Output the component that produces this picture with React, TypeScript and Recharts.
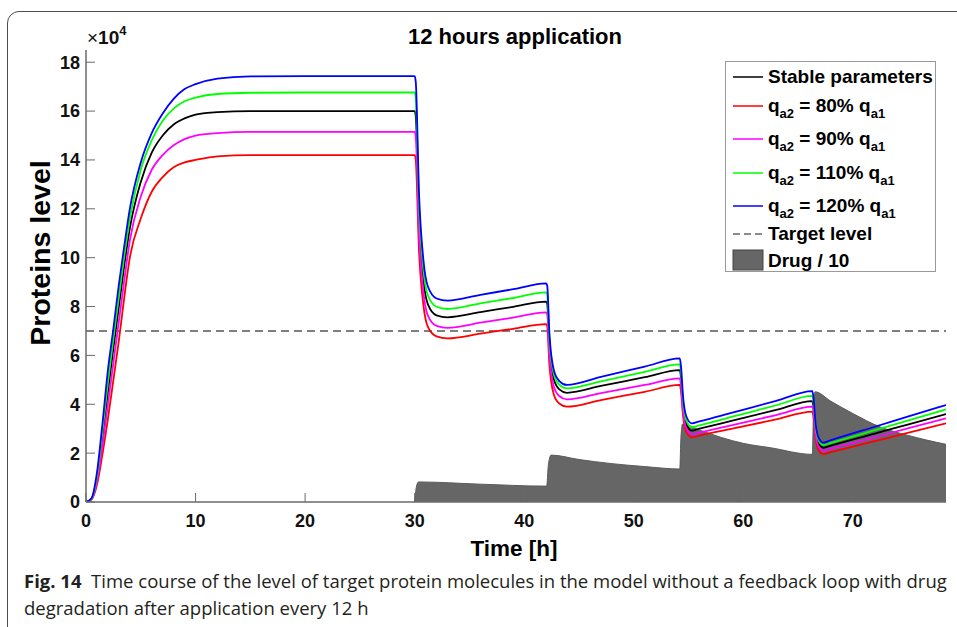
import React from 'react'
import { ComposedChart, Line, Area, XAxis, YAxis, ReferenceLine } from 'recharts'

// simulation time grid [h] for the protein curves
const hours = [
  0, 0.5, 1, 1.5, 2, 2.5, 3, 3.5, 4, 5, 6, 7, 8, 9, 10, 12, 15, 20, 30,
  30.1, 30.4, 30.8, 31.2, 32, 33, 36, 39, 42,
  42.1, 42.3, 42.7, 43.2, 43.9, 47, 51, 54.2,
  54.3, 54.5, 54.8, 55.3, 56, 59, 63, 66.3,
  66.4, 66.6, 66.9, 67.3, 68, 72, 75, 78.5,
]

// protein level (x 10^4)
const stable = [
  0, 0.13, 0.95, 2.6, 4.5, 6.3, 8.0, 9.7, 11.2, 13.1, 14.3, 15.0, 15.45, 15.7, 15.85, 15.96, 16.0, 16.0, 16.0,
  15.79, 11.57, 9.08, 8.1, 7.64, 7.56, 7.77, 7.99, 8.2,
  8.11, 6.36, 5.02, 4.61, 4.47, 4.75, 5.11, 5.4,
  5.14, 3.93, 3.18, 2.92, 3.0, 3.33, 3.77, 4.13,
  3.91, 2.92, 2.37, 2.22, 2.31, 2.8, 3.17, 3.6,
]
const qa80 = [
  0, 0.1, 0.7, 1.95, 3.4, 5.0, 6.6, 8.4, 10.0, 11.6, 12.7, 13.3, 13.7, 13.9, 14.0, 14.15, 14.2, 14.2, 14.2,
  14.01, 10.26, 8.05, 7.18, 6.78, 6.7, 6.89, 7.09, 7.28,
  7.2, 5.61, 4.4, 4.03, 3.9, 4.17, 4.51, 4.79,
  4.57, 3.52, 2.87, 2.65, 2.72, 3.0, 3.38, 3.7,
  3.5, 2.6, 2.1, 1.96, 2.04, 2.49, 2.83, 3.22,
]
const qa90 = [
  0, 0.12, 0.85, 2.3, 4.0, 5.7, 7.4, 9.1, 10.7, 12.5, 13.6, 14.2, 14.6, 14.85, 15.0, 15.1, 15.15, 15.15, 15.15,
  14.95, 10.94, 8.57, 7.64, 7.21, 7.13, 7.34, 7.55, 7.76,
  7.67, 6.0, 4.72, 4.34, 4.2, 4.46, 4.79, 5.06,
  4.82, 3.7, 3.01, 2.77, 2.84, 3.15, 3.56, 3.9,
  3.69, 2.76, 2.24, 2.1, 2.18, 2.65, 3.01, 3.42,
]
const qa110 = [
  0, 0.14, 1.05, 2.9, 4.9, 6.7, 8.4, 10.1, 11.6, 13.6, 14.8, 15.6, 16.1, 16.4, 16.55, 16.7, 16.75, 16.76, 16.76,
  16.54, 12.11, 9.49, 8.47, 7.99, 7.9, 8.13, 8.35, 8.58,
  8.49, 6.64, 5.23, 4.8, 4.65, 4.94, 5.33, 5.63,
  5.36, 4.1, 3.33, 3.06, 3.14, 3.49, 3.96, 4.34,
  4.11, 3.06, 2.49, 2.33, 2.42, 2.94, 3.33, 3.79,
]
const qa120 = [
  0, 0.15, 1.2, 3.2, 5.4, 7.1, 8.9, 10.5, 12.0, 13.9, 15.1, 15.9, 16.5, 16.9, 17.1, 17.33, 17.42, 17.43, 17.43,
  17.2, 12.6, 9.9, 8.83, 8.33, 8.24, 8.48, 8.71, 8.95,
  8.85, 6.9, 5.4, 4.95, 4.79, 5.12, 5.54, 5.88,
  5.6, 4.3, 3.5, 3.22, 3.3, 3.66, 4.14, 4.54,
  4.3, 3.2, 2.6, 2.43, 2.53, 3.08, 3.49, 3.97,
]

// drug amount / 10, dosed every 12 h from hour 30
const drugHours = [
  30, 30.15, 30.35, 36, 42.05, 42.2, 42.45, 45, 48, 51, 54.2, 54.3, 54.45, 56, 58, 60, 62.5, 66.3,
  66.4, 66.55, 68, 70, 72.5, 75, 78.5,
]
const drugLevel = [
  0, 0.6, 0.82, 0.73, 0.65, 1.5, 1.92, 1.74, 1.57, 1.45, 1.35, 2.6, 3.19, 2.95, 2.64, 2.4, 2.22, 1.95,
  3.6, 4.51, 4.12, 3.62, 3.07, 2.73, 2.36,
]

const targetLevel = 7
const xTicks = [0, 10, 20, 30, 40, 50, 60, 70]
const yTicks = [0, 2, 4, 6, 8, 10, 12, 14, 16, 18]

const proteinIdx = new Map(hours.map((t, i) => [t, i]))
const drugIdx = new Map(drugHours.map((t, i) => [t, i]))
const allHours = Array.from(new Set([...hours, ...drugHours])).sort((a, b) => a - b)
const rows = allHours.map((t) => {
  const i = proteinIdx.get(t)
  const j = drugIdx.get(t)
  const pick = (arr: number[]) => (i === undefined ? null : arr[i])
  return {
    t,
    stable: pick(stable),
    qa80: pick(qa80),
    qa90: pick(qa90),
    qa110: pick(qa110),
    qa120: pick(qa120),
    drug: j === undefined ? null : drugLevel[j],
  }
})

const series = [
  { key: 'stable', color: '#000000' },
  { key: 'qa80', color: '#ff0000' },
  { key: 'qa90', color: '#ff00ff' },
  { key: 'qa110', color: '#00ff00' },
  { key: 'qa120', color: '#0000ff' },
]

const font = '"Liberation Sans", Arial, Helvetica, sans-serif'
const axisGray = '#6a6a6a'
const tickStyle = { fill: '#111', fontSize: 18, fontWeight: 700, fontFamily: font }

function Q({ pct }: { pct: string }) {
  const sub = { fontSize: 13, position: 'relative' as const, top: 6 }
  return (
    <span>
      q<span style={sub}>a2</span> = {pct} q<span style={sub}>a1</span>
    </span>
  )
}

const legendRows = [
  { y: 15, kind: 'line', color: '#000', label: <span>Stable parameters</span> },
  { y: 44, kind: 'line', color: '#ff0000', label: <Q pct="80%" /> },
  { y: 77, kind: 'line', color: '#ff00ff', label: <Q pct="90%" /> },
  { y: 111, kind: 'line', color: '#00ff00', label: <Q pct="110%" /> },
  { y: 144, kind: 'line', color: '#0000ff', label: <Q pct="120%" /> },
  { y: 172, kind: 'dash', color: '#666', label: <span>Target level</span> },
  { y: 199, kind: 'rect', color: '#666', label: <span>Drug / 10</span> },
]

function ChartLegend() {
  return (
    <div
      style={{
        position: 'absolute',
        left: 725,
        top: 61,
        width: 209,
        height: 209,
        border: '1px solid #9a9a9a',
        background: '#fff',
        fontFamily: font,
        fontWeight: 700,
        fontSize: 19,
        color: '#000',
      }}
    >
      {legendRows.map((r, i) => (
        <div key={i} style={{ position: 'absolute', left: 0, top: r.y - 12, height: 24, width: '100%' }}>
          <svg width={32} height={24} style={{ position: 'absolute', left: 6, top: 0 }}>
            {r.kind === 'line' && <line x1={1} x2={31} y1={12} y2={12} stroke={r.color} strokeWidth={1.5} />}
            {r.kind === 'dash' && (
              <line x1={1} x2={31} y1={12} y2={12} stroke={r.color} strokeWidth={1.5} strokeDasharray="7 4" />
            )}
            {r.kind === 'rect' && <rect x={1} y={1} width={30} height={20} fill={r.color} stroke="#444" strokeWidth={1} />}
          </svg>
          <div style={{ position: 'absolute', left: 42, top: 0, lineHeight: '24px', whiteSpace: 'nowrap' }}>{r.label}</div>
        </div>
      ))}
    </div>
  )
}

export default function App() {
  return (
    <div
      style={{
        position: 'fixed',
        left: 0,
        top: 0,
        width: 957,
        height: 627,
        overflow: 'hidden',
        background: '#fff',
      }}
    >
      <div
        style={{
          position: 'absolute',
          left: 7,
          top: 11,
          width: 1000,
          height: 700,
          border: '1.5px solid #4d4d4d',
          borderRadius: 12,
        }}
      />
      <div style={{ position: 'absolute', left: 0, top: 0 }}>
        <ComposedChart width={957} height={627} data={rows} margin={{ top: 50, right: 11, bottom: 95, left: 36 }}>
          <XAxis
            type="number"
            dataKey="t"
            domain={[0, 78.5]}
            ticks={xTicks}
            allowDataOverflow
            height={30}
            axisLine={{ stroke: axisGray, strokeWidth: 1.5 }}
            tickLine={{ stroke: axisGray }}
            tickSize={-9}
            tickMargin={21}
            tick={tickStyle}
          />
          <YAxis
            type="number"
            domain={[0, 18.5]}
            ticks={yTicks}
            allowDataOverflow
            width={50}
            axisLine={{ stroke: axisGray, strokeWidth: 1.5 }}
            tickLine={{ stroke: axisGray }}
            tickSize={-9}
            tickMargin={15}
            tick={tickStyle}
          />
          <Area
            dataKey="drug"
            type="monotone"
            fill="#666666"
            fillOpacity={1}
            stroke="#5c5c5c"
            strokeWidth={1}
            connectNulls
            isAnimationActive={false}
          />
          <ReferenceLine y={targetLevel} stroke="#555" strokeWidth={1.5} strokeDasharray="8 5" />
          {series.map((s) => (
            <Line
              key={s.key}
              dataKey={s.key}
              type="monotone"
              stroke={s.color}
              strokeWidth={1.8}
              dot={false}
              connectNulls
              isAnimationActive={false}
            />
          ))}
        </ComposedChart>
      </div>

      <div
        style={{
          position: 'absolute',
          left: 0,
          width: 1030,
          top: 24,
          textAlign: 'center',
          fontFamily: font,
          fontWeight: 700,
          fontSize: 22,
          color: '#000',
        }}
      >
        12 hours application
      </div>
      <div style={{ position: 'absolute', left: 87, top: 27, fontFamily: font, fontSize: 19, color: '#111' }}>
        <span style={{ fontWeight: 400 }}>×</span>
        <span style={{ fontWeight: 700 }}>10</span>
        <span style={{ fontWeight: 700, fontSize: 13, position: 'relative', top: -9 }}>4</span>
      </div>
      <div
        style={{
          position: 'absolute',
          left: 40,
          top: 253,
          transform: 'translate(-50%, -50%) rotate(-90deg)',
          fontFamily: font,
          fontWeight: 700,
          fontSize: 28.5,
          color: '#000',
          whiteSpace: 'nowrap',
        }}
      >
        Proteins level
      </div>
      <div
        style={{
          position: 'absolute',
          left: 0,
          width: 1028,
          top: 536,
          textAlign: 'center',
          fontFamily: font,
          fontWeight: 700,
          fontSize: 22.5,
          color: '#000',
        }}
      >
        Time [h]
      </div>

      <ChartLegend />

      <div
        style={{
          position: 'absolute',
          left: 24,
          top: 567,
          width: 940,
          fontFamily: '"Open Sans", "Noto Sans", sans-serif',
          fontSize: 18.5,
          lineHeight: '27px',
          color: '#231f20',
          whiteSpace: 'nowrap',
        }}
      >
        <div>
          <b>Fig. 14</b>&nbsp;&nbsp;Time course of the level of target protein molecules in the model without a feedback loop with drug
        </div>
        <div>degradation after application every 12 h</div>
      </div>
    </div>
  )
}
